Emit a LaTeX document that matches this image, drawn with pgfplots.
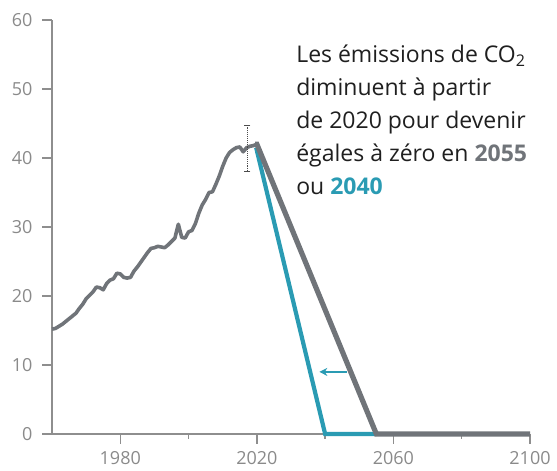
\documentclass[border=0pt]{standalone}
\usepackage{pgfplots}
\pgfplotsset{compat=1.18}
\usepackage{fontspec}
\setmainfont{Open Sans}
\usetikzlibrary{arrows.meta}
\definecolor{gline}{HTML}{707479}
\definecolor{teal2}{HTML}{2A9BB3}
\definecolor{axgray}{HTML}{8E8E8E}
\definecolor{lblgray}{HTML}{8A8A8A}
\definecolor{txt}{HTML}{1F1F1F}
\pgfplotstableread{
year val
1960 15.2
1961 15.3
1962 15.6
1963 15.9
1964 16.3
1965 16.7
1966 17.1
1967 17.5
1968 18.2
1969 18.8
1970 19.6
1971 20.1
1972 20.6
1973 21.3
1974 21.2
1975 20.9
1976 21.8
1977 22.3
1978 22.5
1979 23.3
1980 23.2
1981 22.7
1982 22.6
1983 22.7
1984 23.6
1985 24.2
1986 24.9
1987 25.6
1988 26.3
1989 26.9
1990 27.0
1991 27.2
1992 27.1
1993 27.0
1994 27.4
1995 27.9
1996 28.4
1997 30.4
1998 28.5
1999 28.4
2000 29.3
2001 29.5
2002 30.5
2003 32.0
2004 33.2
2005 34.0
2006 35.0
2007 35.1
2008 36.2
2009 37.4
2010 38.8
2011 40.0
2012 40.8
2013 41.2
2014 41.5
2015 41.6
2016 40.9
2017 41.5
2018 41.7
2019 41.8
2020 42.0
}\hist
\begin{document}
\begin{tikzpicture}
\path[use as bounding box] (0pt,0pt) rectangle (557pt,471pt);
\begin{axis}[
  at={(52pt,37pt)}, anchor=south west,
  scale only axis, width=478pt, height=414pt,
  xmin=1960, xmax=2100, ymin=0, ymax=60,
  axis x line*=bottom, axis y line*=left,
  axis line style={-, draw=axgray, line width=1.7pt},
  xtick={1980,2020,2060,2100},
  minor xtick={2000,2040,2080},
  ytick={0,10,...,60},
  tick align=outside,
  major tick length=10pt, minor tick length=5pt,
  tick style={draw=axgray, line width=1.5pt},
  /pgf/number format/assume math mode=true,
  /pgf/number format/1000 sep={},
  tick label style={font=\fontsize{18}{20}\selectfont, text=lblgray},
  xticklabel style={yshift=-4pt},
  yticklabel style={xshift=-6pt},
  clip=false,
]
\addplot[draw=gline, line width=3.6pt, line join=round] table[x=year,y=val] {\hist};
\addplot[draw=teal2, line width=4.2pt, line join=miter] coordinates {(2019.8,41.5) (2040,0) (2055,0)};
\addplot[draw=gline, line width=5.2pt, line join=miter] coordinates {(2019.5,42.0) (2020,42.0) (2055,0) (2100,0)};
\addplot[draw=black!70, densely dotted, line width=0.9pt] coordinates {(2017.2,38.1) (2017.2,44.7)};
\addplot[draw=black!70, only marks, mark=-, mark size=3pt, mark options={line width=1pt, solid}] coordinates {(2017.2,38.1) (2017.2,44.7)};
\addplot[draw=teal2, line width=1.4pt, -{Stealth[length=8pt,width=8pt]}] coordinates {(2046.3,9) (2038.3,9)};
\node[anchor=north west, align=left, inner sep=0pt, font=\fontsize{23}{33}\selectfont, text=txt] at (axis cs:2031.5,56.4)
{Les émissions de CO\textsubscript{2}\\diminuent à partir\\de 2020 pour devenir\\égales à zéro en \textbf{\color{gline}2055}\\ou \textbf{\color{teal2}2040}};
\end{axis}
\end{tikzpicture}
\end{document}
